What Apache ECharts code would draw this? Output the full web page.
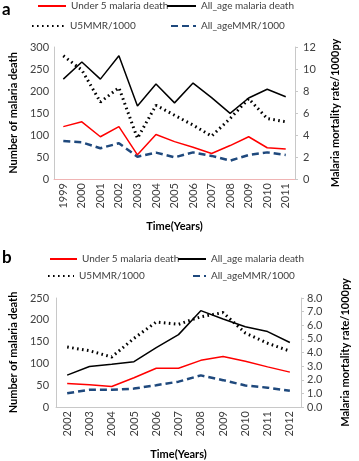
<!DOCTYPE html>
<html><head><meta charset="utf-8">
<script src="https://cdn.jsdelivr.net/npm/echarts@6/dist/echarts.min.js"></script>
<style>html,body{margin:0;padding:0;background:#fff}#c{width:359px;height:461px}</style>
</head><body><div id="c"></div>
<script>
// Panel a
const yearsA = ['1999','2000','2001','2002','2003','2004','2005','2006','2007','2008','2009','2010','2011'];
const u5DeathA = [119,130,96,119,55,101,85,72,58,76,96,71,68];
const allDeathA = [227,266,227,280,166,216,173,218,185,149,184,204,187];
const u5MmrA = [11.2,9.9,7.0,8.3,3.7,6.7,5.8,4.9,3.9,5.5,7.3,5.5,5.2];
const allMmrA = [3.45,3.33,2.8,3.25,2.03,2.4,1.97,2.42,2.1,1.67,2.18,2.42,2.18];
const leftTicksA = [0,50,100,150,200,250,300];
const rightTicksA = [0,2,4,6,8,10,12];
// Panel b
const yearsB = ['2002','2003','2004','2005','2006','2007','2008','2009','2010','2011','2012'];
const u5DeathB = [54,51,47,67,89,89,107,116,105,92,80];
const allDeathB = [73,93,98,104,136,166,221,202,184,173,148];
const u5MmrB = [4.4,4.13,3.67,5.04,6.24,6.07,6.62,6.93,5.43,4.68,4.1];
const allMmrB = [1.01,1.26,1.26,1.35,1.6,1.86,2.32,1.97,1.58,1.42,1.19];
const leftTicksB = [0,50,100,150,200,250];
const rightTicksB = [0,1,2,3,4,5,6,7,8];

const names = ['Under 5 malaria death','All_age malaria death','U5MMR/1000','All_ageMMR/1000'];
const FONT = 'Lato';
const TXT = '#404040';

const chart = echarts.init(document.getElementById('c'), null, {renderer:'canvas'});

function styles(i){
  return [
    {color:'#ff0000', width:1.5, type:'solid'},
    {color:'#000000', width:1.5, type:'solid'},
    {color:'#000000', width:3, type:[1.6,3.4]},
    {color:'#1f497d', width:2.5, type:[7,4]}
  ][i];
}
function series(idx, data){
  const s=[];
  data.forEach((d,i)=>{
    const ls=styles(i);
    s.push({name:names[i], type:'line', xAxisIndex:idx, yAxisIndex:idx*2+(i>=2?1:0),
      data:d, symbol:'none', showSymbol:false, silent:true, animation:false,
      lineStyle:{color:ls.color,width:ls.width,type:ls.type}, itemStyle:{color:ls.color}, z:[2,3,4,1][i]});
  });
  return s;
}
function legend(name,left,top,w){
  return {data:[name], left:left, top:top, itemWidth:w, itemHeight:12, itemGap:0, padding:0,
    itemStyle:{opacity:0, borderWidth:0},
    textStyle:{fontFamily:FONT,fontSize:10,color:TXT}, selectedMode:false};
}
function yAx(grid, ticks, pos, nameStr, gap, margin, showTick, fmt){
  return {type:'value', gridIndex:grid, position:pos, min:ticks[0], max:ticks[ticks.length-1],
    interval:ticks[1]-ticks[0], name:nameStr, nameLocation:'middle', nameGap:gap, nameRotate:90,
    nameTextStyle:{fontFamily:FONT,fontSize:11,fontWeight:'bold',color:'#000'},
    axisLine:{show:true,lineStyle:{color:'#c8c8c8',width:1}},
    axisTick:{show:showTick,length:3,lineStyle:{color:'#c8c8c8'}},
    splitLine:{show:false},
    axisLabel:{margin:margin,fontFamily:FONT,fontSize:11,color:TXT,formatter:fmt}};
}
function xAx(grid, cats, lineColor){
  return {type:'category', gridIndex:grid, data:cats, boundaryGap:true,
    name:'Time(Years)', nameLocation:'middle', nameGap:42,
    nameTextStyle:{fontFamily:FONT,fontSize:11,fontWeight:'bold',color:'#000'},
    axisLine:{lineStyle:{color:lineColor,width:1}}, axisTick:{show:false},
    axisLabel:{rotate:90,margin:4,fontFamily:FONT,fontSize:11,color:TXT,interval:0}};
}

chart.setOption({
  animation:false,
  grid:[
    {left:42, right:64, top:47, bottom:282},
    {left:41, right:45, top:298, bottom:47}
  ],
  xAxis:[xAx(0,yearsA,'#f0b4b4'), xAx(1,yearsB,'#c8c8c8')],
  yAxis:[
    yAx(0,leftTicksA,'left','Number of malaria death',34,5,false,v=>String(v)),
    yAx(0,rightTicksA,'right','Malaria mortality rate/1000py',35,8,true,v=>String(v)),
    yAx(1,leftTicksB,'left','Number of malaria death',33,7,false,v=>String(v)),
    yAx(1,rightTicksB,'right','Malaria mortality rate/1000py',39,6,true,v=>v.toFixed(1))
  ],
  legend:[
    legend(names[0],37,1,28), legend(names[1],166,1,29),
    legend(names[2],31,21,33), legend(names[3],170,21,25),
    legend(names[0],49,254,27), legend(names[1],177,254,28),
    legend(names[2],47,271,26), legend(names[3],192,271,13)
  ],
  graphic:[
    {type:'text', left:2, top:1, style:{text:'a', font:'bold 17px '+FONT, fill:'#000'}},
    {type:'text', left:2, top:249, style:{text:'b', font:'bold 17px '+FONT, fill:'#000'}}
  ],
  series:[...series(0,[u5DeathA,allDeathA,u5MmrA,allMmrA]), ...series(1,[u5DeathB,allDeathB,u5MmrB,allMmrB])]
});
</script></body></html>
